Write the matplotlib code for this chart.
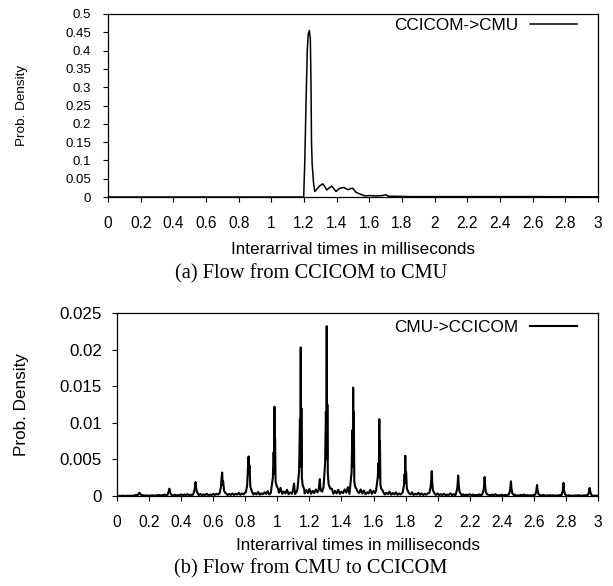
import numpy as np
import matplotlib
matplotlib.use("Agg")
import matplotlib.pyplot as plt

# ---------------- data ----------------
# (a) CCICOM -> CMU
a_x = [0, 1.19, 1.198, 1.205, 1.212, 1.220, 1.226, 1.233, 1.239, 1.243, 1.246, 1.250,
       1.258, 1.266, 1.280, 1.295, 1.315, 1.328, 1.339, 1.352, 1.370, 1.384, 1.396,
       1.408, 1.420, 1.445, 1.460, 1.471, 1.485, 1.498, 1.518, 1.543, 1.573, 1.60,
       1.64, 1.68, 1.70, 1.72, 1.76, 1.85, 2.0, 2.3, 2.6, 3.0]
a_y = [0, 0, 0, 0.10, 0.25, 0.40, 0.445, 0.455, 0.43, 0.30, 0.15, 0.09,
       0.04, 0.015, 0.022, 0.030, 0.036, 0.028, 0.019, 0.024, 0.030, 0.022, 0.015,
       0.020, 0.024, 0.026, 0.022, 0.020, 0.023, 0.024, 0.013, 0.008, 0.003, 0.004,
       0.003, 0.004, 0.006, 0.002, 0.002, 0.001, 0.001, 0.001, 0.001, 0.0005]

# (b) CMU -> CCICOM  (values in units of 1e-3)
b_floor_x = [round(0.02 * i, 2) for i in range(151)]
b_floor_y_milli = [
    0.00, 0.02, 0.03, 0.03, 0.04, 0.05, 0.15, 0.20, 0.12, 0.08, 0.06,
    0.10, 0.08, 0.15, 0.12, 0.20, 0.25, 0.15, 0.18, 0.12, 0.22,
    0.20, 0.25, 0.18, 0.30, 0.45, 0.28, 0.22, 0.30, 0.20, 0.28,
    0.30, 0.40, 0.55, 0.35, 0.28, 0.35, 0.30, 0.42, 0.35, 0.50,
    0.45, 0.60, 0.40, 0.55, 0.35, 0.50, 0.65, 0.45, 0.70, 0.90,
    1.10, 0.60, 0.85, 0.50, 0.70, 0.55, 1.00, 0.60, 0.80, 0.95,
    0.70, 0.90, 1.30, 0.60, 0.50, 0.80, 1.00, 0.70, 0.85, 0.60,
    0.90, 1.20, 0.70, 0.80, 0.60, 0.90, 0.75, 0.50, 0.85, 0.70,
    0.90, 0.70, 0.55, 0.45, 0.60, 0.40, 0.50, 0.35, 0.45, 0.60,
    0.40, 0.50, 0.30, 0.45, 0.35, 0.30, 0.40, 0.25, 0.30, 0.35,
    0.25, 0.30, 0.20, 0.35, 0.25, 0.20, 0.30, 0.22, 0.18, 0.25,
    0.20, 0.15, 0.22, 0.18, 0.30, 0.15, 0.20, 0.25, 0.12, 0.18,
    0.15, 0.20, 0.12, 0.18, 0.10, 0.15, 0.20, 0.12, 0.10, 0.15,
    0.12, 0.10, 0.15, 0.08, 0.12, 0.10, 0.08, 0.12, 0.10, 0.08,
    0.10, 0.06, 0.08, 0.12, 0.06, 0.10, 0.15, 0.08, 0.05, 0.06]
# in-between samples (noise troughs)
b_floor2_x = [round(0.01 + 0.02 * i, 2) for i in range(150)]
b_floor2_y_milli = [
    0.01, 0.02, 0.01, 0.02, 0.03, 0.08, 0.10, 0.06, 0.04, 0.03,
    0.05, 0.04, 0.06, 0.05, 0.10, 0.08, 0.07, 0.06, 0.08, 0.10,
    0.10, 0.12, 0.09, 0.15, 0.14, 0.12, 0.10, 0.14, 0.10, 0.12,
    0.15, 0.20, 0.18, 0.15, 0.14, 0.16, 0.15, 0.20, 0.16, 0.22,
    0.20, 0.25, 0.20, 0.22, 0.18, 0.25, 0.28, 0.22, 0.30, 0.40,
    0.45, 0.30, 0.35, 0.25, 0.30, 0.28, 0.40, 0.30, 0.35, 0.40,
    0.30, 0.40, 0.50, 0.30, 0.25, 0.35, 0.40, 0.30, 0.35, 0.30,
    0.40, 0.45, 0.30, 0.35, 0.30, 0.40, 0.32, 0.25, 0.35, 0.30,
    0.40, 0.30, 0.25, 0.20, 0.25, 0.18, 0.22, 0.16, 0.20, 0.25,
    0.18, 0.22, 0.14, 0.20, 0.15, 0.14, 0.18, 0.12, 0.14, 0.15,
    0.12, 0.14, 0.10, 0.15, 0.12, 0.10, 0.14, 0.10, 0.08, 0.12,
    0.10, 0.07, 0.10, 0.08, 0.12, 0.07, 0.09, 0.11, 0.06, 0.08,
    0.07, 0.09, 0.06, 0.08, 0.05, 0.07, 0.09, 0.06, 0.05, 0.07,
    0.06, 0.05, 0.07, 0.04, 0.06, 0.05, 0.04, 0.06, 0.05, 0.04,
    0.05, 0.03, 0.04, 0.06, 0.03, 0.05, 0.07, 0.04, 0.03, 0.03]

b_peaks_x = [
    [0.128, 0.136, 0.140, 0.145, 0.152],
    [0.315, 0.322, 0.327, 0.331, 0.338],
    [0.476, 0.484, 0.488, 0.490, 0.493, 0.498, 0.506],
    [0.640, 0.648, 0.652, 0.656, 0.659, 0.662, 0.668, 0.676],
    [0.804, 0.812, 0.816, 0.819, 0.821, 0.823, 0.826, 0.832, 0.842],
    [0.962, 0.972, 0.977, 0.980, 0.982, 0.984, 0.986, 0.989, 0.994, 1.004],
    [1.098, 1.102, 1.104, 1.107],
    [1.126, 1.136, 1.141, 1.144, 1.146, 1.148, 1.150, 1.153, 1.158, 1.168],
    [1.258, 1.263, 1.265, 1.268, 1.273],
    [1.288, 1.298, 1.303, 1.306, 1.308, 1.310, 1.312, 1.315, 1.320, 1.330],
    [1.453, 1.463, 1.468, 1.471, 1.473, 1.475, 1.477, 1.480, 1.485, 1.495],
    [1.616, 1.626, 1.631, 1.634, 1.636, 1.638, 1.640, 1.643, 1.648, 1.658],
    [1.782, 1.790, 1.794, 1.796, 1.798, 1.800, 1.803, 1.808, 1.818],
    [1.948, 1.956, 1.960, 1.963, 1.966, 1.970, 1.980],
    [2.114, 2.122, 2.125, 2.128, 2.131, 2.136, 2.145],
    [2.279, 2.287, 2.290, 2.293, 2.296, 2.301, 2.310],
    [2.444, 2.451, 2.454, 2.457, 2.460, 2.465, 2.474],
    [2.607, 2.614, 2.617, 2.620, 2.623, 2.628, 2.636],
    [2.772, 2.779, 2.782, 2.785, 2.788, 2.793, 2.801],
    [2.935, 2.942, 2.945, 2.948, 2.951, 2.956, 2.964],
]
b_peaks_y_milli = [
    [0.1, 0.35, 0.45, 0.3, 0.12],
    [0.15, 0.6, 1.0, 0.5, 0.2],
    [0.25, 0.9, 1.5, 1.9, 1.2, 0.6, 0.3],
    [0.35, 1.2, 2.4, 3.2, 1.5, 2.0, 0.7, 0.4],
    [0.5, 1.5, 3.6, 5.0, 5.4, 3.0, 4.2, 1.2, 0.6],
    [0.9, 2.5, 6.0, 4.0, 12.2, 3.0, 7.8, 2.0, 1.5, 1.0],
    [0.8, 1.4, 1.7, 0.9],
    [1.0, 3.5, 10.5, 6.0, 20.3, 4.0, 12.0, 2.5, 1.5, 0.9],
    [0.8, 1.8, 2.3, 1.2, 0.7],
    [1.2, 4.5, 11.5, 6.5, 23.2, 5.0, 12.5, 3.0, 1.6, 1.0],
    [1.0, 3.2, 9.0, 5.0, 14.8, 4.0, 11.5, 2.0, 1.3, 0.9],
    [0.8, 2.5, 4.5, 3.0, 10.5, 2.5, 7.5, 1.5, 1.0, 0.7],
    [0.5, 1.5, 3.0, 2.0, 5.5, 1.8, 3.3, 1.0, 0.5],
    [0.4, 1.2, 2.2, 3.4, 2.0, 0.8, 0.35],
    [0.3, 1.0, 1.8, 2.8, 1.6, 0.6, 0.25],
    [0.25, 0.9, 1.6, 2.6, 1.4, 0.5, 0.2],
    [0.2, 0.7, 1.3, 2.0, 1.1, 0.4, 0.15],
    [0.15, 0.5, 1.0, 1.5, 0.8, 0.3, 0.12],
    [0.12, 0.6, 1.2, 1.8, 0.9, 0.3, 0.1],
    [0.1, 0.4, 0.8, 1.1, 0.7, 0.25, 0.08],
]

x_ticks = [0, 0.2, 0.4, 0.6, 0.8, 1, 1.2, 1.4, 1.6, 1.8, 2, 2.2, 2.4, 2.6, 2.8, 3]
x_tick_labels = ["0", "0.2", "0.4", "0.6", "0.8", "1", "1.2", "1.4", "1.6", "1.8",
                 "2", "2.2", "2.4", "2.6", "2.8", "3"]
a_y_ticks = [0, 0.05, 0.1, 0.15, 0.2, 0.25, 0.3, 0.35, 0.4, 0.45, 0.5]
a_y_tick_labels = ["0", "0.05", "0.1", "0.15", "0.2", "0.25", "0.3", "0.35", "0.4", "0.45", "0.5"]
b_y_ticks = [0, 0.005, 0.01, 0.015, 0.02, 0.025]
b_y_tick_labels = ["0", "0.005", "0.01", "0.015", "0.02", "0.025"]

# merge floor samples + peaks for panel b
bx, by = [], []
for fxs, fys in ((b_floor_x, b_floor_y_milli), (b_floor2_x, b_floor2_y_milli)):
    for fx, fy in zip(fxs, fys):
        if any(px[0] <= fx <= px[-1] for px in b_peaks_x):
            continue
        bx.append(fx); by.append(fy / 1000.0)
for px, py in zip(b_peaks_x, b_peaks_y_milli):
    bx.extend(px); by.extend(v / 1000.0 for v in py)
order = np.argsort(bx, kind="stable")
bx = np.array(bx)[order]
by = np.array(by)[order]

# ---------------- figure ----------------
plt.rcParams["font.family"] = ["Liberation Sans", "DejaVu Sans"]
W, H = 613, 586
fig = plt.figure(figsize=(W / 100, H / 100), dpi=100)


def style(ax, yticks, ylabels, ymax, ytick_fs, ylabel_fs, ypad, xlabel_y, ylabel_xy):
    ax.set_xlim(0, 3)
    ax.set_ylim(0, ymax)
    ax.set_xticks(x_ticks)
    ax.set_xticklabels(x_tick_labels, fontsize=11.2)
    ax.set_yticks(yticks)
    ax.set_yticklabels(ylabels, fontsize=ytick_fs)
    ax.tick_params(direction="out", length=3.6, width=0.8, top=False, right=False)
    ax.tick_params(axis="x", pad=10)
    ax.tick_params(axis="y", pad=ypad)
    for s in ax.spines.values():
        s.set_linewidth(0.9)
    ax.set_xlabel("Interarrival times in milliseconds", fontsize=12.3)
    ax.xaxis.set_label_coords(0.5, xlabel_y)
    ax.xaxis.label.set_va("center")
    ax.set_ylabel("Prob. Density", fontsize=ylabel_fs)
    ax.yaxis.set_label_coords(*ylabel_xy)
    ax.yaxis.label.set_va("center")


# panel (a)
ax1 = fig.add_axes([108 / W, 1 - 197 / H, 490 / W, 183 / H])
ax1.plot(a_x, a_y, color="black", lw=1.1, label="CCICOM->CMU")
style(ax1, a_y_ticks, a_y_tick_labels, 0.5, 9.5, 9.7, 8.6,
      -(250 - 197) / 183, ((22 - 108) / 490, 0.5))
ax1.legend(loc="center right", frameon=False, markerfirst=False, fontsize=12.3,
           handlelength=2.75, handletextpad=0.7, borderpad=0, borderaxespad=0,
           bbox_to_anchor=((577 - 108) / 490, (197 - 25) / 183))

# panel (b)
ax2 = fig.add_axes([117 / W, 1 - 496 / H, 481 / W, 183 / H])
ax2.plot(bx, by, color="black", lw=1.5, label="CMU->CCICOM")
style(ax2, b_y_ticks, b_y_tick_labels, 0.025, 12.2, 12.3, 7.2,
      -(546 - 496) / 183, ((22 - 117) / 481, 0.5))
ax2.legend(loc="center right", frameon=False, markerfirst=False, fontsize=12.3,
           handlelength=2.75, handletextpad=0.7, borderpad=0, borderaxespad=0,
           bbox_to_anchor=((577 - 117) / 481, (496 - 327) / 183))

cap_font = ["Liberation Serif", "DejaVu Serif"]
fig.text(311 / W, 1 - 274 / H, "(a) Flow from CCICOM to CMU", ha="center", va="center",
         fontsize=14.7, family=cap_font)
fig.text(311 / W, 1 - 569 / H, "(b) Flow from CMU to CCICOM", ha="center", va="center",
         fontsize=14.7, family=cap_font)

fig.savefig("out.png", dpi=100)
